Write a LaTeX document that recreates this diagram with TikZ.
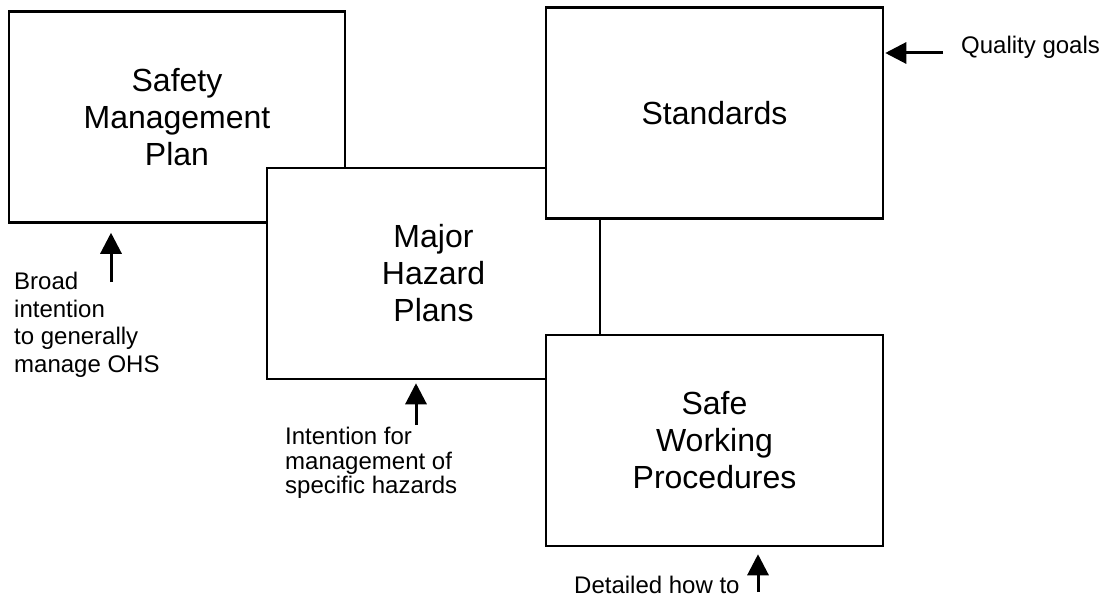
\documentclass[tikz,border=0pt]{standalone}
\usepackage{fontspec}
\setmainfont{Liberation Sans}
\usetikzlibrary{arrows.meta}
\tikzset{
	plan/.style={draw, fill=white, line width=2.5pt, minimum width=#1, minimum height=211pt,
		inner sep=0pt, align=center, font=\fontsize{32}{37}\selectfont},
	note/.style={anchor=west, inner sep=0pt, align=left, font=\fontsize{24}{#1}\selectfont},
	feed/.style={line width=3pt, -{Triangle[length=21pt,width=21pt]}}
}

\begin{document}
\begin{tikzpicture}[x=1pt, y=-1pt]
		%%%%% START %%%%%
		\useasboundingbox (0, 0) rectangle (1103, 599);
		
		% the four plans, later ones on top
		\node[plan=336pt] (smp) at (177, 117) {Safety\\Management\\Plan};
		\node[plan=333pt] (mhp) at (433.5, 273.5) {Major\\Hazard\\Plans};
		\node[plan=337pt] (std) at (714.5, 113) {Standards};
		\node[plan=337pt] (swp) at (714.5, 440.5) {Safe\\Working\\Procedures};
		
		% inputs
		\node[note=27.5pt] (broad) at (14, 325) {Broad\\intention\\to generally\\manage OHS};
		\coordinate (broadin) at (111, 282);
		\draw[feed, shorten >=9pt] (broadin) -- (smp.south -| broadin);
		
		\node[note=24.5pt] (specific) at (285, 463) {Intention for\\management of\\specific hazards};
		\coordinate (specificin) at (416, 425);
		\draw[feed, shorten >=3pt] (specificin) -- (mhp.south -| specificin);
		
		\node[note=28pt] (howto) at (574, 585) {Detailed how to};
		\coordinate (howtoin) at (758, 592);
		\draw[feed, shorten >=7pt] (howtoin) -- (swp.south -| howtoin);
		
		\node[note=28pt] (quality) at (961, 47) {Quality goals};
		\coordinate (qualityin) at (943, 53);
		\draw[feed, shorten >=1pt] (qualityin) -- (std.east |- qualityin);
		
		%%%%% END %%%%%
	\end{tikzpicture}
\end{document}
